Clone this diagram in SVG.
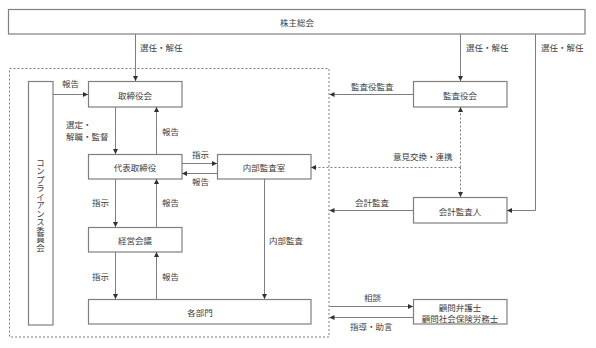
<svg xmlns="http://www.w3.org/2000/svg" width="596" height="348" viewBox="0 0 596 348">
<style>
.box{fill:#fff;stroke:#7f7f7f;stroke-width:1.2}
.ln{fill:none;stroke:#7f7f7f;stroke-width:1}
.dash{fill:none;stroke:#7f7f7f;stroke-width:1;stroke-dasharray:2,2}
text{font-family:"Noto Sans CJK JP","Noto Sans",sans-serif;font-size:8.5px;fill:#404040}
.c{text-anchor:middle;dominant-baseline:central}
.l{dominant-baseline:central}
</style>
<defs>
<marker id="ah" viewBox="0 0 6 6" refX="6" refY="3" markerWidth="5" markerHeight="5" markerUnits="userSpaceOnUse" orient="auto">
<path d="M0,0 L6,3 L0,6 Z" fill="#303030"/>
</marker>
</defs>
<rect id="org" x="9.5" y="68.5" width="319.5" height="268.5" class="dash"/>
<g id="shareholders"><rect x="8.5" y="9.5" width="576.5" height="24.5" class="box"/><text x="297" y="21.5" class="c">株主総会</text></g>
<g id="compliance"><rect x="28.5" y="81.5" width="24.5" height="243.5" class="box"/><text x="40.5" y="205" style="writing-mode:vertical-rl;text-anchor:middle">コンプライアンス委員会</text></g>
<g id="board"><rect x="88.5" y="81.5" width="93.5" height="25.5" class="box"/><text x="135" y="94.5" class="c">取締役会</text></g>
<g id="ceo"><rect x="88.5" y="154.5" width="93.5" height="24.5" class="box"/><text x="135" y="167" class="c">代表取締役</text></g>
<g id="audit-office"><rect x="217.5" y="154.5" width="93.5" height="24.5" class="box"/><text x="264" y="167" class="c">内部監査室</text></g>
<g id="mgmt"><rect x="88.5" y="227.5" width="93.5" height="24.5" class="box"/><text x="135" y="240" class="c">経営会議</text></g>
<g id="depts"><rect x="88.5" y="299.5" width="222.5" height="24.5" class="box"/><text x="200" y="312" class="c">各部門</text></g>
<g id="auditors"><rect x="413.5" y="81.5" width="93.5" height="25.5" class="box"/><text x="460" y="94.5" class="c">監査役会</text></g>
<g id="accountant"><rect x="413.5" y="197.5" width="93.5" height="25.5" class="box"/><text x="460" y="210.5" class="c">会計監査人</text></g>
<g id="advisors"><rect x="413.5" y="299.5" width="93.5" height="24.5" class="box"/><text x="460" y="306.5" class="c">顧問弁護士</text><text x="460" y="317.5" class="c">顧問社会保険労務士</text></g>
<g id="connectors">
<path d="M135.5,34 V81" class="ln" marker-end="url(#ah)"/>
<path d="M460.5,34 V81" class="ln" marker-end="url(#ah)"/>
<path d="M535.5,34 V210.5 H507" class="ln" marker-end="url(#ah)"/>
<path d="M53,94.5 H88" class="ln" marker-end="url(#ah)"/>
<path d="M115.5,107 V154" class="ln" marker-end="url(#ah)"/>
<path d="M156.5,154 V107" class="ln" marker-end="url(#ah)"/>
<path d="M182,163.5 H217" class="ln" marker-end="url(#ah)"/>
<path d="M217,173.5 H182" class="ln" marker-end="url(#ah)"/>
<path d="M115.5,179 V227" class="ln" marker-end="url(#ah)"/>
<path d="M156.5,227 V179" class="ln" marker-end="url(#ah)"/>
<path d="M115.5,252 V299" class="ln" marker-end="url(#ah)"/>
<path d="M156.5,299 V252" class="ln" marker-end="url(#ah)"/>
<path d="M264.5,179 V299" class="ln" marker-end="url(#ah)"/>
<path d="M413,94.5 H329.5" class="ln" marker-end="url(#ah)"/>
<path d="M413,210.5 H329.5" class="ln" marker-end="url(#ah)"/>
<path d="M329.5,306.5 H413" class="ln" marker-end="url(#ah)"/>
<path d="M413,317.5 H329.5" class="ln" marker-end="url(#ah)"/>
<path d="M460.5,167.5 V107" class="dash" marker-end="url(#ah)"/>
<path d="M460.5,167.5 V197" class="dash" marker-end="url(#ah)"/>
<path d="M460.5,167.5 H311" class="dash" marker-end="url(#ah)"/>
<text x="140" y="47" class="l">選任・解任</text>
<text x="466" y="47" class="l">選任・解任</text>
<text x="541" y="47" class="l">選任・解任</text>
<text x="62" y="83" class="l">報告</text>
<text x="66" y="123.5" class="l">選定・</text>
<text x="66" y="135.5" class="l">解職・監督</text>
<text x="162" y="131" class="l">報告</text>
<text x="192" y="154" class="l">指示</text>
<text x="192" y="181" class="l">報告</text>
<text x="92" y="202" class="l">指示</text>
<text x="162" y="202" class="l">報告</text>
<text x="92" y="276" class="l">指示</text>
<text x="162" y="276" class="l">報告</text>
<text x="269" y="240" class="l">内部監査</text>
<text x="351" y="86" class="l">監査役監査</text>
<text x="393" y="156" class="l">意見交換・連携</text>
<text x="355" y="202" class="l">会計監査</text>
<text x="364" y="297" class="l">相談</text>
<text x="350" y="326" class="l">指導・助言</text>
</g>
</svg>
